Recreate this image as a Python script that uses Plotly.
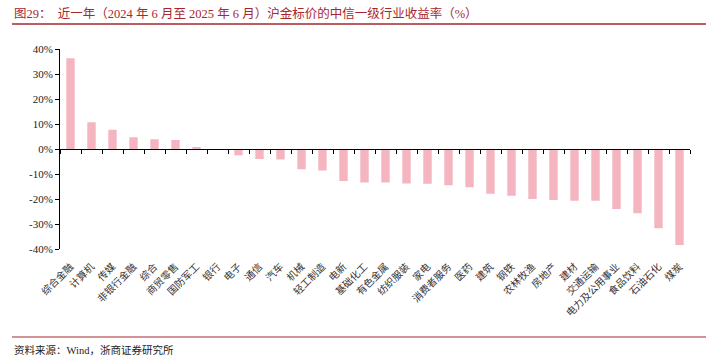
import plotly.graph_objects as go

categories = ["综合金融", "计算机", "传媒", "非银行金融", "综合", "商贸零售", "国防军工", "银行",
              "电子", "通信", "汽车", "机械", "轻工制造", "电新", "基础化工", "有色金属",
              "纺织服装", "家电", "消费者服务", "医药", "建筑", "钢铁", "农林牧渔", "房地产",
              "建材", "交通运输", "电力及公用事业", "食品饮料", "石油石化", "煤炭"]
returns = [36.3, 10.7, 7.7, 4.7, 3.9, 3.6, 0.8, -0.1,
           -2.5, -4.0, -4.2, -8.1, -8.6, -12.8, -13.4, -13.4,
           -13.8, -13.9, -14.5, -15.3, -17.9, -18.7, -20.0, -20.4,
           -20.7, -20.7, -24.0, -25.7, -31.7, -38.4]
y_ticks = [-40, -30, -20, -10, 0, 10, 20, 30, 40]
y_ticklabels = [f"{v}%" for v in y_ticks]

title_text = "图29：  近一年（2024 年 6 月至 2025 年 6 月）沪金标价的中信一级行业收益率（%）"
source_text = "资料来源：Wind，浙商证券研究所"

FONT = "Liberation Serif, 'Times New Roman', 'Noto Sans CJK SC', serif"
RED = "#A8272D"

W, H = 718, 360
L, R, T, B = 60, 28, 49, 111

fig = go.Figure()
fig.add_trace(go.Bar(x=categories, y=returns, marker_color="#F4B5C1",
                     marker_line_width=0, xaxis="x", yaxis="y", hoverinfo="x+y"))
# invisible copy to drive the zero-line axis with boundary ticks
fig.add_trace(go.Bar(x=categories, y=returns, marker_color="rgba(0,0,0,0)",
                     marker_line_width=0, xaxis="x2", yaxis="y", hoverinfo="skip",
                     showlegend=False))

fig.update_layout(
    width=W, height=H,
    margin=dict(l=L, r=R, t=T, b=B),
    paper_bgcolor="white", plot_bgcolor="white",
    showlegend=False,
    bargap=0.6,
    font=dict(family=FONT, size=11, color="#000000"),
    xaxis=dict(type="category", showline=False, ticks="", showgrid=False,
               tickangle=-45, ticklabelstandoff=9,
               tickfont=dict(family="'Noto Sans CJK SC', sans-serif", size=10, color="#333333"),
               range=[-0.5, len(categories) - 0.5], fixedrange=True),
    xaxis2=dict(type="category", overlaying="x", anchor="free", position=0.5,
                showline=True, linecolor="#000000", linewidth=1,
                ticks="outside", ticklen=4, tickcolor="#000000", tickwidth=1,
                tickson="boundaries", showticklabels=False, showgrid=False,
                range=[-0.5, len(categories) - 0.5], matches="x"),
    yaxis=dict(range=[-40, 40], tickvals=y_ticks, ticktext=y_ticklabels,
               showline=True, linecolor="#000000", linewidth=1,
               ticks="outside", ticklen=4, tickcolor="#000000",
               showgrid=False, zeroline=False,
               tickfont=dict(family=FONT, size=11, color="#222222")),
)

pw = W - L - R
ph = H - T - B
def px_x(p):
    return (p - L) / pw
def px_y(p):
    return (H - B - p) / ph

fig.add_annotation(text=title_text, x=px_x(12), y=px_y(13), xref="paper", yref="paper",
                   xanchor="left", yanchor="middle", showarrow=False,
                   font=dict(family="Liberation Serif, 'Noto Sans CJK SC', serif", size=12.5, color=RED))
fig.add_annotation(text=source_text, x=px_x(12), y=px_y(350), xref="paper", yref="paper",
                   xanchor="left", yanchor="middle", showarrow=False,
                   font=dict(family="Liberation Serif, 'Noto Sans CJK SC', serif", size=10.5, color="#222222"))
fig.add_shape(type="line", xref="paper", yref="paper", x0=px_x(12), x1=px_x(706),
              y0=px_y(24), y1=px_y(24), line=dict(color=RED, width=1.5))
fig.add_shape(type="line", xref="paper", yref="paper", x0=px_x(12), x1=px_x(706),
              y0=px_y(337), y1=px_y(337), line=dict(color=RED, width=1.2))

fig.write_html("out.html", config={"displayModeBar": False},
               post_script="document.body.style.margin='0';document.body.style.overflow='hidden';")
